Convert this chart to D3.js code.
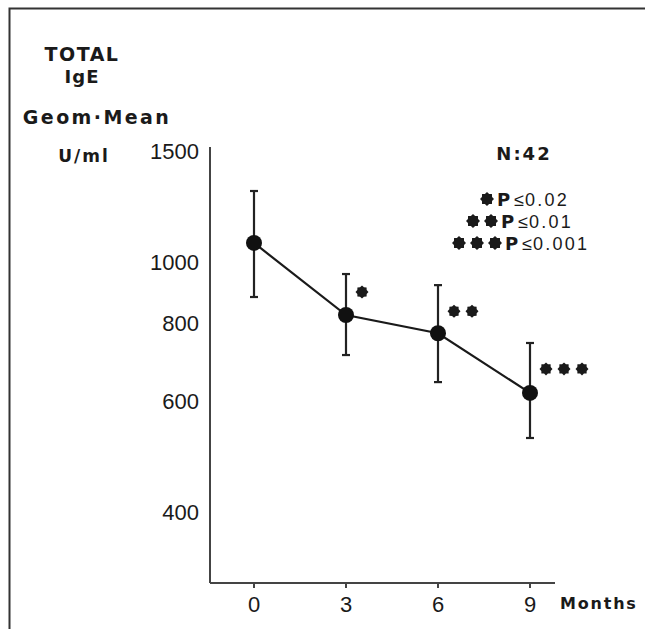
<!DOCTYPE html>
<html>
<head>
<meta charset="utf-8">
<script src="https://cdn.jsdelivr.net/npm/d3@7"></script>
<style>
  html, body { margin: 0; padding: 0; background: #fff; }
  svg { display: block; }
</style>
</head>
<body>
<svg id="chart" width="645" height="629"></svg>
<script>
// ---- data ----
const months   = [0, 3, 6, 9];
const geoMean  = [1071, 823, 770, 619];
const errUpper = [1295, 956, 918, 743];
const errLower = [879, 711, 644, 525];
const signifCount = [0, 1, 2, 3];
const yTicks   = [400, 600, 800, 1000, 1500];
const xTicks   = [0, 3, 6, 9];
const legendStars = [1, 2, 3];
const legendText  = ["P≤0.02", "P≤0.01", "P≤0.001"];

const svg = d3.select("#chart");
const ink = "#1a1a1a";
const boldFont = "'DejaVu Sans', sans-serif";
const thinFont = "'Liberation Sans', Arial, sans-serif";

// burst-shaped asterisk
function burst(r) {
  const n = 8, pts = [];
  for (let k = 0; k < 2 * n; k++) {
    const a = Math.PI * k / n;
    pts.push([a, k % 2 ? r * 0.78 : r]);
  }
  return d3.lineRadial().curve(d3.curveLinearClosed)(pts);
}

// frame (top and left visible)
svg.append("path")
  .attr("d", "M9.5,629 V8.5 H645")
  .attr("fill", "none").attr("stroke", "#333").attr("stroke-width", 2);

const x = d3.scaleLinear().domain([0, 9]).range([254, 530]);
const y = d3.scaleLog().domain([309, 1521]).range([583, 147]);

// axes
const yAxisX = 210, xAxisY = 583;
svg.append("line").attr("x1", yAxisX).attr("x2", yAxisX)
  .attr("y1", 147).attr("y2", xAxisY)
  .attr("stroke", "#444").attr("stroke-width", 2);
svg.append("line").attr("x1", yAxisX).attr("x2", 555)
  .attr("y1", xAxisY).attr("y2", xAxisY)
  .attr("stroke", "#444").attr("stroke-width", 2);

// y tick labels
svg.selectAll(".ytl").data(yTicks).enter().append("text")
  .attr("class", "ytl")
  .attr("x", 199).attr("y", d => y(d))
  .attr("dy", "0.36em")
  .attr("text-anchor", "end")
  .attr("font-family", thinFont).attr("font-size", 22)
  .attr("fill", ink)
  .text(d => d);

// x ticks and labels
svg.selectAll(".xt").data(xTicks).enter().append("line")
  .attr("x1", d => x(d)).attr("x2", d => x(d))
  .attr("y1", xAxisY).attr("y2", xAxisY + 5)
  .attr("stroke", "#444").attr("stroke-width", 2);
svg.selectAll(".xtl").data(xTicks).enter().append("text")
  .attr("x", d => x(d)).attr("y", 612)
  .attr("text-anchor", "middle")
  .attr("font-family", thinFont).attr("font-size", 22)
  .attr("fill", ink)
  .text(d => d);

svg.append("text").attr("x", 560).attr("y", 609)
  .attr("font-family", boldFont).attr("font-weight", "bold")
  .attr("font-size", 16).attr("letter-spacing", 1.8)
  .attr("fill", ink).text("Months");

// y-axis title block
const title = [
  {t: "TOTAL", x: 82, y: 61, size: 19, ls: 1.5},
  {t: "IgE", x: 82, y: 83, size: 18, ls: 1},
  {t: "Geom·Mean", x: 97, y: 124, size: 19, ls: 2.4},
  {t: "U/ml", x: 84, y: 162, size: 17, ls: 2}
];
svg.selectAll(".title").data(title).enter().append("text")
  .attr("x", d => d.x).attr("y", d => d.y)
  .attr("text-anchor", "middle")
  .attr("font-family", boldFont).attr("font-weight", "bold")
  .attr("font-size", d => d.size).attr("letter-spacing", d => d.ls)
  .attr("fill", ink)
  .text(d => d.t);

// N label
svg.append("text").attr("x", 524).attr("y", 160)
  .attr("text-anchor", "middle")
  .attr("font-family", boldFont).attr("font-weight", "bold")
  .attr("font-size", 18).attr("letter-spacing", 2)
  .attr("fill", ink).text("N:42");

// legend
const legBase = [206, 228, 250];
const legStart = [497, 501, 505];
legendText.forEach((t, i) => {
  const g = svg.append("text").attr("x", legStart[i]).attr("y", legBase[i])
    .attr("font-family", boldFont).attr("font-size", 18)
    .attr("fill", ink);
  g.append("tspan").attr("font-weight", "bold").text(t.slice(0, 1));
  g.append("tspan").attr("font-family", thinFont).attr("font-size", 18).attr("dx", 4).text(t.slice(1, 2));
  g.append("tspan").attr("font-family", thinFont).attr("font-size", 18).attr("letter-spacing", 2.2).attr("dx", 1).text(t.slice(2));
  for (let k = 0; k < legendStars[i]; k++) {
    svg.append("path")
      .attr("d", burst(7))
      .attr("transform", `translate(${legStart[i] - 10 - k * 18},${legBase[i] - 7})`)
      .attr("fill", ink);
  }
});

// line
const line = d3.line().x((d, i) => x(months[i])).y(d => y(d));
svg.append("path").datum(geoMean)
  .attr("d", line).attr("fill", "none")
  .attr("stroke", ink).attr("stroke-width", 2.2);

// error bars
months.forEach((m, i) => {
  svg.append("line")
    .attr("x1", x(m)).attr("x2", x(m))
    .attr("y1", y(errUpper[i])).attr("y2", y(errLower[i]))
    .attr("stroke", "#222").attr("stroke-width", 2.2);
  [errUpper[i], errLower[i]].forEach(v => {
    svg.append("line")
      .attr("x1", x(m) - 4).attr("x2", x(m) + 4)
      .attr("y1", y(v)).attr("y2", y(v))
      .attr("stroke", "#222").attr("stroke-width", 2.2);
  });
});

// points
svg.selectAll(".pt").data(geoMean).enter().append("circle")
  .attr("cx", (d, i) => x(months[i])).attr("cy", d => y(d))
  .attr("r", 8).attr("fill", "#111");

// significance markers
const sigOffsetY = [0, -23, -22, -24];
months.forEach((m, i) => {
  for (let k = 0; k < signifCount[i]; k++) {
    svg.append("path")
      .attr("d", burst(6.5))
      .attr("transform", `translate(${x(m) + 16 + k * 18},${y(geoMean[i]) + sigOffsetY[i]})`)
      .attr("fill", ink);
  }
});
</script>
</body>
</html>
